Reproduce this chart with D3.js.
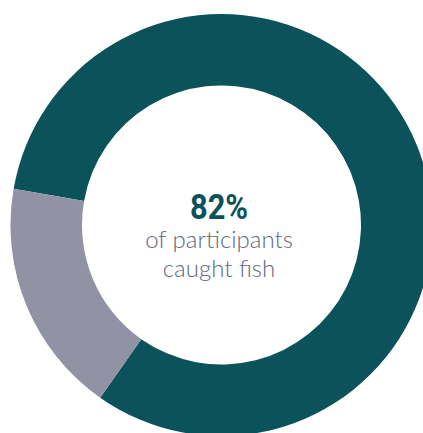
<!DOCTYPE html>
<html>
<head>
<meta charset="utf-8">
<script src="https://cdn.jsdelivr.net/npm/d3@7"></script>
<style>
  html, body { margin: 0; padding: 0; background: #ffffff; overflow: hidden; }
  svg { display: block; }
</style>
</head>
<body>
<div id="chart"></div>
<script>
// Data
const categories = ["Caught fish", "Did not catch fish"];
const values = [82, 18];
const colors = ["#0b525b", "#9192a3"];
const headline = "82%";
const subLines = ["of participants", "caught fish"];

const width = 423, height = 433;
const cx = 221.5, cy = 225;
const outerR = 211, innerR = 139.5;
const startDeg = -80.1;

const svg = d3.select("#chart").append("svg")
  .attr("width", width).attr("height", height);

const g = svg.append("g").attr("transform", `translate(${cx},${cy})`);

const pie = d3.pie().sort(null)
  .startAngle(startDeg * Math.PI / 180)
  .endAngle(startDeg * Math.PI / 180 + 2 * Math.PI);

const arc = d3.arc().innerRadius(innerR).outerRadius(outerR);

const color = d3.scaleOrdinal().domain(categories).range(colors);

g.selectAll("path.slice")
  .data(pie(values))
  .join("path")
  .attr("class", "slice")
  .attr("d", arc)
  .attr("fill", (d, i) => color(categories[i]));

const tx = 219;
g.append("text")
  .attr("x", tx - cx).attr("y", 219 - cy)
  .attr("text-anchor", "middle")
  .attr("font-family", "Roboto, 'Liberation Sans', sans-serif")
  .attr("font-weight", 700)
  .attr("font-size", 35.5)
  .attr("textLength", 58)
  .attr("lengthAdjust", "spacingAndGlyphs")
  .attr("fill", colors[0])
  .text(headline);

g.selectAll("text.sub")
  .data(subLines)
  .join("text")
  .attr("class", "sub")
  .attr("x", tx - cx)
  .attr("y", (d, i) => 248 - cy + i * 29)
  .attr("text-anchor", "middle")
  .attr("font-family", "Lato, 'Open Sans', sans-serif")
  .attr("font-weight", 300)
  .attr("font-size", 24)
  .attr("fill", "#62667f")
  .text(d => d);
</script>
</body>
</html>
